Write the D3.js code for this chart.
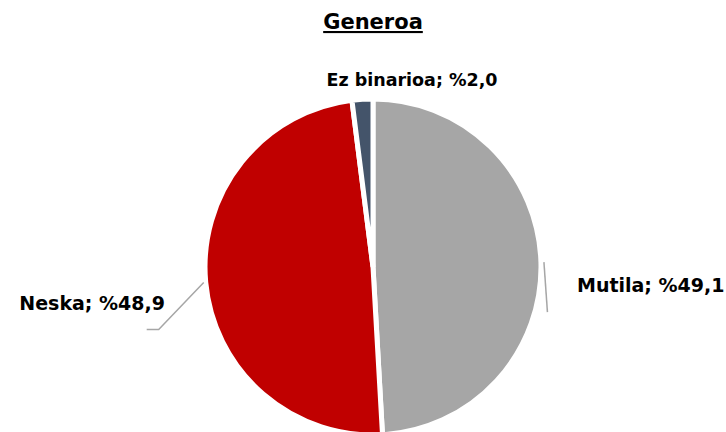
<!DOCTYPE html>
<html>
<head>
<meta charset="utf-8">
<script src="https://cdn.jsdelivr.net/npm/d3@7"></script>
<style>
  html, body { margin: 0; padding: 0; background: #fff; }
  text { font-family: "DejaVu Sans", Verdana, sans-serif; font-weight: bold; fill: #000; }
</style>
</head>
<body>
<div id="chart"></div>
<script>
// Chart data
const categories = ['Mutila', 'Neska', 'Ez binarioa'];
const values = [49.1, 48.9, 2.0];
const valueLabels = ['%49,1', '%48,9', '%2,0'];
const colors = ['#A6A6A6', '#C00000', '#44546A'];

const width = 726, height = 432;
const cx = 373, cy = 267, radius = 168;

const svg = d3.select('#chart')
    .append('svg')
    .attr('width', width)
    .attr('height', height);

// Title
svg.append('text')
    .attr('x', 373)
    .attr('y', 29)
    .attr('text-anchor', 'middle')
    .style('font-size', '21px')
    .style('text-decoration', 'underline')
    .text('Generoa');

const pie = d3.pie().sort(null).value(d => d);
const arcs = pie(values);
const arc = d3.arc().innerRadius(0).outerRadius(radius);

const g = svg.append('g')
    .attr('transform', `translate(${cx},${cy})`);

g.selectAll('path')
    .data(arcs)
    .enter()
    .append('path')
    .attr('d', arc)
    .attr('fill', (d, i) => colors[i])
    .attr('stroke', '#fff')
    .attr('stroke-width', 5)
    .attr('stroke-linejoin', 'miter');

// point on the rim at a slice's mid angle
function rim(d, r) {
    const a = (d.startAngle + d.endAngle) / 2;
    return [cx + r * Math.sin(a), cy - r * Math.cos(a)];
}

// Leader lines
const p0 = rim(arcs[0], radius + 3);
svg.append('polyline')
    .attr('points', [p0, [p0[0] + 3.5, p0[1] + 50]].join(' '))
    .attr('fill', 'none')
    .attr('stroke', '#A6A6A6')
    .attr('stroke-width', 1.5);

const p1 = rim(arcs[1], radius + 2);
svg.append('polyline')
    .attr('points', [p1, [p1[0] - 45, p1[1] + 47], [p1[0] - 57, p1[1] + 47]].join(' '))
    .attr('fill', 'none')
    .attr('stroke', '#A6A6A6')
    .attr('stroke-width', 1.5);

// Data labels
const labelPos = [
    { x: 577, y: 292, anchor: 'start', size: 19 },
    { x: 165, y: 310, anchor: 'end', size: 19 },
    { x: 412, y: 86, anchor: 'middle', size: 17.5 }
];

svg.selectAll('.lbl')
    .data(arcs)
    .enter()
    .append('text')
    .attr('class', 'lbl')
    .attr('x', (d, i) => labelPos[i].x)
    .attr('y', (d, i) => labelPos[i].y)
    .attr('text-anchor', (d, i) => labelPos[i].anchor)
    .style('font-size', (d, i) => labelPos[i].size + 'px')
    .text((d, i) => `${categories[i]}; ${valueLabels[i]}`);
</script>
</body>
</html>
